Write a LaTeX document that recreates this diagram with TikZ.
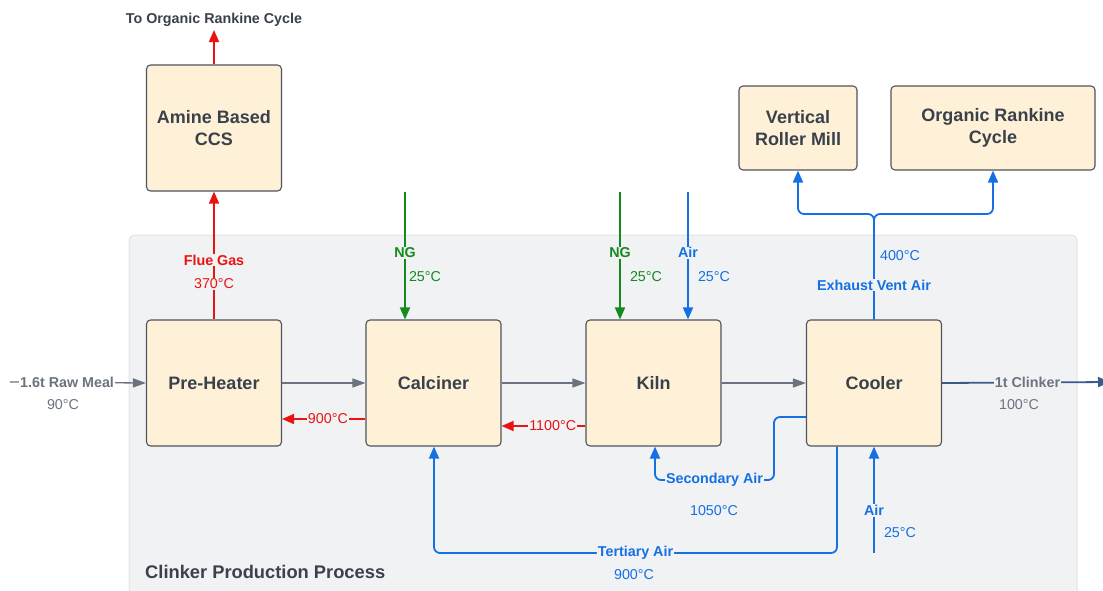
\documentclass[tikz,border=0pt]{standalone}
\usepackage{fontspec}
\setmainfont{Liberation Sans}
\usetikzlibrary{arrows.meta,calc}
\definecolor{panel}{HTML}{F1F2F4}
\definecolor{panelline}{HTML}{E1E3E7}
\definecolor{boxfill}{HTML}{FEF1D8}
\definecolor{boxline}{HTML}{4F545B}
\definecolor{ink}{HTML}{3A414A}
\definecolor{flowgray}{HTML}{6C7380}
\definecolor{hot}{HTML}{E81414}
\definecolor{gas}{HTML}{138A1D}
\definecolor{air}{HTML}{1470E3}
\definecolor{product}{HTML}{3B5B8F}

\begin{document}
\begin{tikzpicture}[x=1pt,y=-1pt,
  unitbox/.style={draw=boxline, fill=boxfill, line width=1.1pt, rounded corners=4pt,
    minimum width=135pt, minimum height=126pt, align=center,
    font=\fontsize{18}{22}\selectfont\bfseries, text=ink, inner sep=0pt},
  flow/.style={line width=1.8pt, -{Triangle[length=12pt,width=10pt]}},
  grayflow/.style={flowgray, line width=1.3pt, -{Triangle[length=13pt,width=9pt]}},
  lbl/.style={font=\fontsize{14.3}{16}\selectfont\bfseries, inner sep=1pt, fill=panel},
  val/.style={font=\fontsize{14.3}{16}\selectfont, inner sep=1pt},
]
\useasboundingbox (0,0) rectangle (1103,590);
\clip (0,0) rectangle (1103,590);
\fill[white] (0,0) rectangle (1103,590);

% process area
\draw[panelline, fill=panel, line width=1pt, rounded corners=6pt] (129,235) rectangle (1077,610);
\node[anchor=west, inner sep=0pt, font=\fontsize{18.3}{22}\selectfont\bfseries, text=ink] (title) at (145,572) {Clinker Production Process};

% units
\node[unitbox] (ccs)  at (214,128) {Amine Based\\CCS};
\node[unitbox] (pre)  at (214,383) {Pre-Heater};
\node[unitbox] (calc) at (433.5,383) {Calciner};
\node[unitbox] (kiln) at (653.5,383) {Kiln};
\node[unitbox] (cool) at (874,383) {Cooler};
\node[unitbox, minimum width=118pt, minimum height=84pt] (vrm) at (798,128) {Vertical\\Roller Mill};
\node[unitbox, minimum width=204pt, minimum height=84pt] (orc) at (993,128) {Organic Rankine\\Cycle};

% free ends
\coordinate (rawin) at (10,382);
\coordinate (ccsout) at (214,30);
\coordinate (ng1) at (405,192);
\coordinate (ng2) at (620,192);
\coordinate (air1) at (688,192);
\coordinate (air2) at (874,553);
\coordinate (clkout) at (1110,382);

% solids path
\draw[grayflow] (rawin) -- node[lbl, fill=white, text=flowgray, pos=0.42] {1.6t Raw Meal} (pre.west);
\node[val, text=flowgray] at (63,405) {90°C};
\draw[grayflow] (pre.east) -- (calc.west);
\draw[grayflow] (calc.east) -- (kiln.west);
\draw[grayflow] (kiln.east) -- (cool.west);
\draw[flow, product] (cool.east) -- node[lbl, text=flowgray, pos=0.509] {1t Clinker} (clkout);
\node[val, text=flowgray] at (1019,405) {100°C};

% hot gas
\draw[flow, hot] (calc.west |- 0,419) -- node[val, fill=panel, text=hot, pos=0.45] {900°C} (pre.east |- 0,419);
\draw[flow, hot] (kiln.west |- 0,426) -- node[val, fill=panel, text=hot, pos=0.39] {1100°C} (calc.east |- 0,426);
\draw[flow, hot] (pre.north) -- node[lbl, text=hot, pos=0.465] {Flue Gas}
  node[val, fill=panel, text=hot, pos=0.28] {370°C} (ccs.south);
\draw[flow, hot] (ccs.north) -- (ccsout);
\node[font=\fontsize{14.3}{16}\selectfont\bfseries, text=ink] (orcnote) at (214,20) {To Organic Rankine Cycle};

% fuel and air feeds
\draw[flow, gas] (ng1) -- node[lbl, text=gas, pos=0.477] {NG} (ng1 |- calc.north);
\node[val, text=gas] at (425,277) {25°C};
\draw[flow, gas] (ng2) -- node[lbl, text=gas, pos=0.477] {NG} (ng2 |- kiln.north);
\node[val, text=gas] at (646,277) {25°C};
\draw[flow, air] (air1) -- node[lbl, text=air, pos=0.477] {Air} (air1 |- kiln.north);
\node[val, text=air] at (714,277) {25°C};
\draw[flow, air] (air2) -- node[lbl, text=air, pos=0.40] {Air} (air2 |- cool.south);
\node[val, text=air] at (900,533) {25°C};

% recovered air
\draw[flow, air, rounded corners=6pt] (cool.west |- 0,417) -- (774,417) -- (774,480)
  -- node[lbl, text=air] {Secondary Air} (655,480) -- (655,0 |- kiln.south);
\node[val, text=air] at (714,511) {1050°C};
\draw[flow, air, rounded corners=6pt] (837,0 |- cool.south) -- (837,553)
  -- node[lbl, text=air] {Tertiary Air} (434,553) -- (434,0 |- calc.south);
\node[val, text=air] at (634,575) {900°C};

% exhaust vent air
\draw[flow, air, rounded corners=6pt] (cool.north) -- (874,214) -| (vrm.south);
\draw[flow, air, rounded corners=6pt] (cool.north) -- (874,214) -| (orc.south);
\node[lbl, text=air] (exh) at (874,285) {Exhaust Vent Air};
\node[val, text=air] at (900,256) {400°C};
\end{tikzpicture}
\end{document}
